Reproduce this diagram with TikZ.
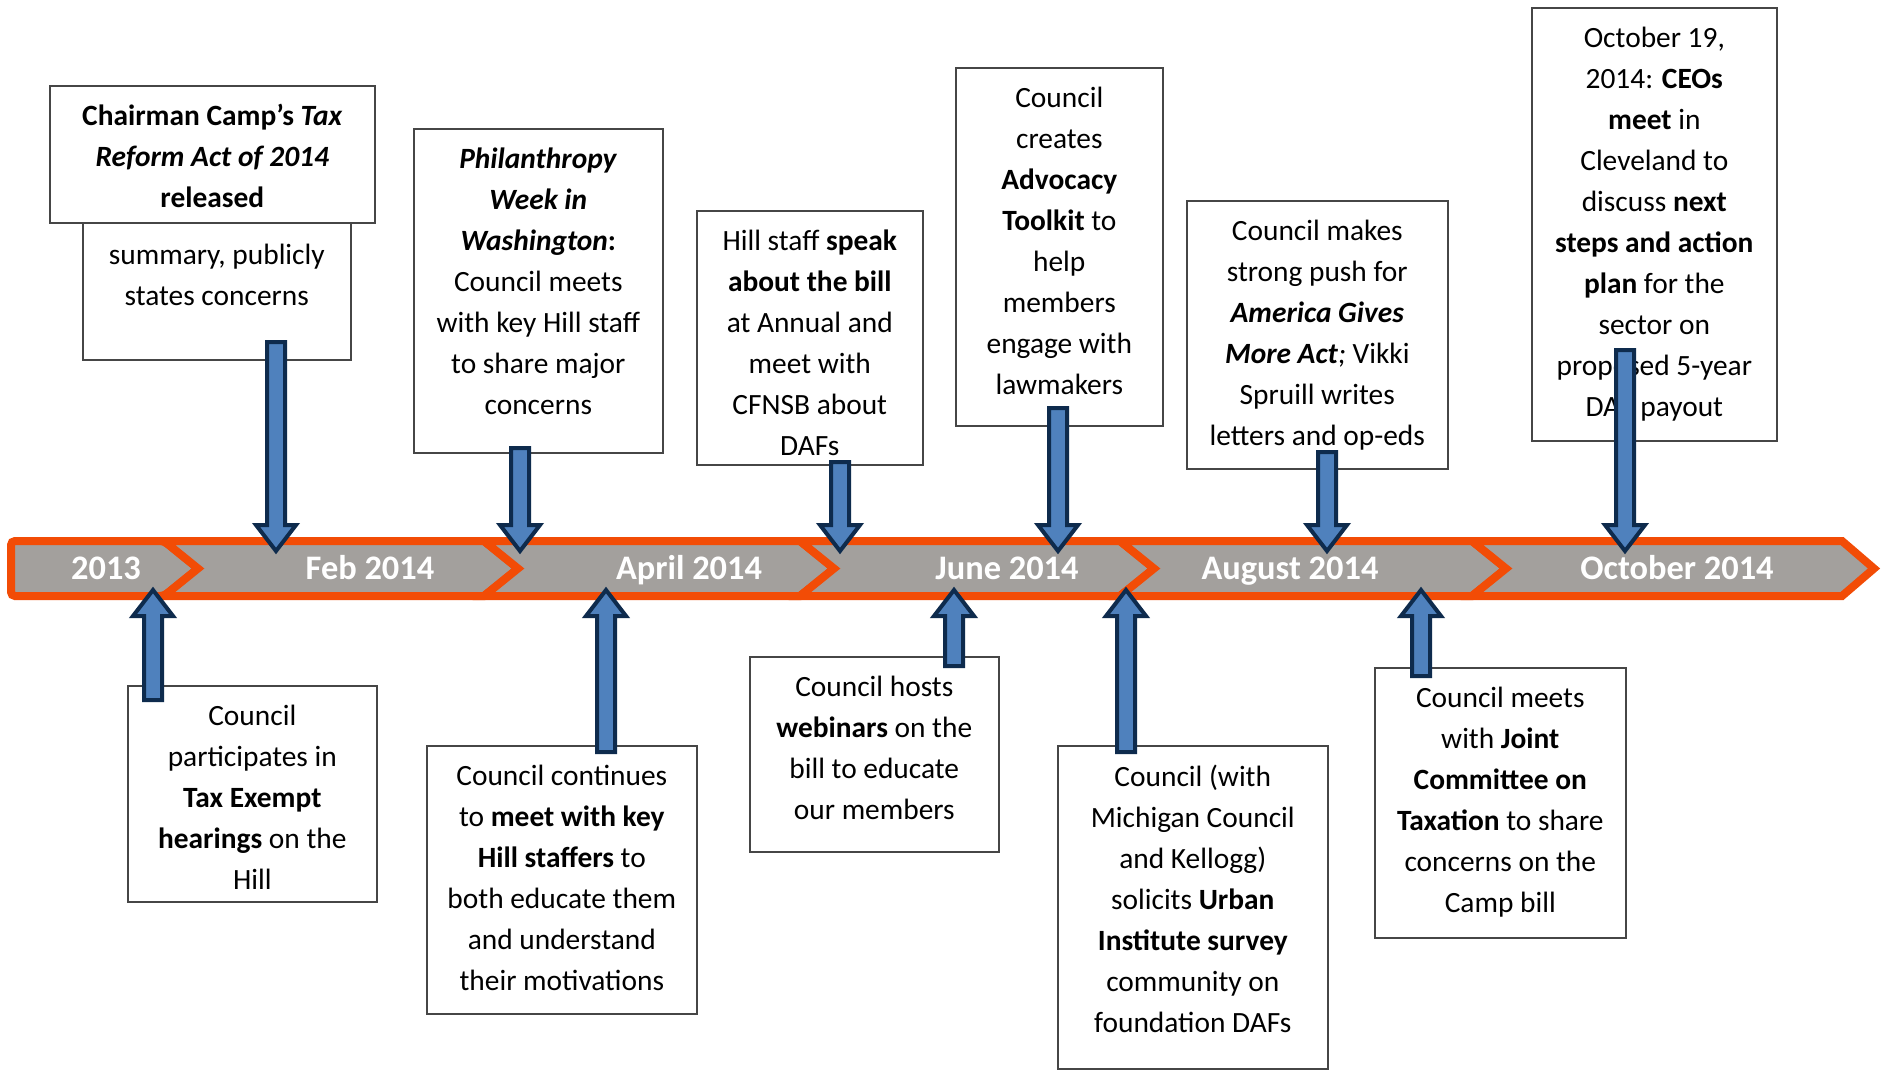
\documentclass[tikz,border=0pt]{standalone}
\usepackage{fontspec}
\setmainfont{Carlito}
\usetikzlibrary{calc, positioning}
\definecolor{bandorange}{RGB}{242,76,6}
\definecolor{bandgray}{RGB}{163,160,157}
\definecolor{arrowblue}{RGB}{79,129,189}
\definecolor{arrownavy}{RGB}{14,43,77}
\definecolor{boxgray}{RGB}{70,70,70}

% block arrow from #1 (tail) to #2 (tip), vertical
\newcommand{\evarrow}[2]{%
  \draw[blockarrow] let \p1=(#1), \p2=(#2), \n1={sign(\y2-\y1)} in
    (\x1-4.5pt,\y1) -- (\x1-4.5pt,{\y2-(\n1)*13pt}) -- (\x1-10pt,{\y2-(\n1)*13pt})
    -- (\x1,\y2) -- (\x1+10pt,{\y2-(\n1)*13pt}) -- (\x1+4.5pt,{\y2-(\n1)*13pt})
    -- (\x1+4.5pt,\y1) -- cycle;}

\begin{document}
\begin{tikzpicture}[x=0.5pt, y=-0.5pt,
  band/.style={draw=bandorange, line width=4pt, fill=bandgray, line join=miter},
  bandlabel/.style={text=white, font=\fontsize{17.2}{20}\selectfont\bfseries, anchor=base},
  evbox/.style={draw=boxgray, line width=0.8pt, fill=white, inner sep=0pt, anchor=north west},
  evtext/.style={align=center, font=\fontsize{14.7}{20.5}\selectfont, inner sep=0pt},
  blockarrow/.style={draw=arrownavy, fill=arrowblue, line width=2pt, line join=miter}]

  \fill[white] (0,0) rectangle (1881,1070);
  \useasboundingbox (0,0) rectangle (1881,1070);

  % timeline band
  \draw[band, rounded corners=2pt] (11,541) -- (164,541) -- (198,568.5) -- (164,596) -- (11,596) -- cycle;
  \draw[band] (164,541) -- (484,541) -- (518,568.5) -- (484,596) -- (164,596) -- (198,568.5) -- cycle;
  \draw[band] (484,541) -- (800,541) -- (834,568.5) -- (800,596) -- (484,596) -- (518,568.5) -- cycle;
  \draw[band] (800,541) -- (1120,541) -- (1154,568.5) -- (1120,596) -- (800,596) -- (834,568.5) -- cycle;
  \draw[band] (1120,541) -- (1472,541) -- (1506,568.5) -- (1472,596) -- (1120,596) -- (1154,568.5) -- cycle;
  \draw[band] (1472,541) -- (1842,541) -- (1874,568.5) -- (1842,596) -- (1472,596) -- (1506,568.5) -- cycle;

  \node[bandlabel] (y2013) at (106,579) {2013};
  \node[bandlabel] (feb) at (370,579) {Feb 2014};
  \node[bandlabel] (apr) at (689,579) {April 2014};
  \node[bandlabel] (jun) at (1007,579) {June 2014};
  \node[bandlabel] (aug) at (1290,579) {August 2014};
  \node[bandlabel] (oct) at (1677,579) {October 2014};

  \coordinate (downtip) at (0,551);
  \coordinate (uptip) at (0,590);

  % events above the band
  \node[evbox, minimum width=134pt, minimum height=87.5pt] (summ) at (82,184) {};
  \node[evtext, below=30pt of summ.north] (summ-t) {summary, publicly\\states concerns};
  \node[evbox, minimum width=162.5pt, minimum height=68.5pt] (camp) at (49,85) {};
  \node[evtext, below=9.6pt of camp.north] (camp-t) {\textbf{Chairman Camp’s \textit{Tax}}\\\textbf{\textit{Reform Act of 2014}}\\\textbf{released}};

  \node[evbox, minimum width=124.5pt, minimum height=162pt] (week) at (413,128) {};
  \node[evtext, below=9.6pt of week.north] (week-t) {\textbf{\textit{Philanthropy}}\\\textbf{\textit{Week in}}\\\textbf{\textit{Washington}:}\\Council meets\\with key Hill staff\\to share major\\concerns};

  \node[evbox, minimum width=113pt, minimum height=127pt] (speak) at (696,210) {};
  \node[evtext, below=9.6pt of speak.north] (speak-t) {Hill staff \textbf{speak}\\\textbf{about the bill}\\at Annual and\\meet with\\CFNSB about\\DAFs};

  \node[evbox, minimum width=103.5pt, minimum height=179pt] (toolkit) at (955,67) {};
  \node[evtext, below=9.6pt of toolkit.north] (toolkit-t) {Council\\creates\\\textbf{Advocacy}\\\textbf{Toolkit} to\\help\\members\\engage with\\lawmakers};

  \node[evbox, minimum width=130.5pt, minimum height=134pt] (gives) at (1186,200) {};
  \node[evtext, below=9.6pt of gives.north] (gives-t) {Council makes\\strong push for\\\textbf{\textit{America Gives}}\\\textbf{\textit{More Act}}\textit{;} Vikki\\Spruill writes\\letters and op-eds};

  \node[evbox, minimum width=122.5pt, minimum height=216.5pt] (ceos) at (1531,7) {};
  \node[evtext, below=9.6pt of ceos.north] (ceos-t) {October 19,\\2014: \textbf{CEOs}\\\textbf{meet} in\\Cleveland to\\discuss \textbf{next}\\\textbf{steps and action}\\\textbf{plan} for the\\sector on\\proposed 5-year\\DAF payout};

  % events below the band
  \node[evbox, minimum width=124.5pt, minimum height=108pt] (hear) at (127,685) {};
  \node[evtext, below=9.6pt of hear.north] (hear-t) {Council\\participates in\\\textbf{Tax Exempt}\\\textbf{hearings} on the\\Hill};

  \node[evbox, minimum width=135pt, minimum height=134pt] (staff) at (426,745) {};
  \node[evtext, below=9.6pt of staff.north] (staff-t) {Council continues\\to \textbf{meet with key}\\\textbf{Hill staffers} to\\both educate them\\and understand\\their motivations};

  \node[evbox, minimum width=124.5pt, minimum height=97.5pt] (webinar) at (749,656) {};
  \node[evtext, below=9.6pt of webinar.north] (webinar-t) {Council hosts\\\textbf{webinars} on the\\bill to educate\\our members};

  \node[evbox, minimum width=135pt, minimum height=161.5pt] (survey) at (1057,745) {};
  \node[evtext, below=9.6pt of survey.north] (survey-t) {Council (with\\Michigan Council\\and Kellogg)\\solicits \textbf{Urban}\\\textbf{Institute survey}\\community on\\foundation DAFs};

  \node[evbox, minimum width=125.5pt, minimum height=135pt] (joint) at (1374,667) {};
  \node[evtext, below=9.6pt of joint.north] (joint-t) {Council meets\\with \textbf{Joint}\\\textbf{Committee on}\\\textbf{Taxation} to share\\concerns on the\\Camp bill};

  % arrows to the band
  \coordinate (camp-a) at (276,342);
  \coordinate (week-a) at (520,448);
  \coordinate (speak-a) at (840,462);
  \coordinate (toolkit-a) at (1058,408);
  \coordinate (gives-a) at (1327,452);
  \coordinate (ceos-a) at (1625,350);
  \coordinate (hear-a) at (153,700);
  \coordinate (staff-a) at (606,752);
  \coordinate (webinar-a) at (954,666);
  \coordinate (survey-a) at (1126,752);
  \coordinate (joint-a) at (1421,676);

  \evarrow{camp-a}{camp-a |- downtip}
  \evarrow{week-a}{week-a |- downtip}
  \evarrow{speak-a}{speak-a |- downtip}
  \evarrow{toolkit-a}{toolkit-a |- downtip}
  \evarrow{gives-a}{gives-a |- downtip}
  \evarrow{ceos-a}{ceos-a |- downtip}
  \evarrow{hear-a}{hear-a |- uptip}
  \evarrow{staff-a}{staff-a |- uptip}
  \evarrow{webinar-a}{webinar-a |- uptip}
  \evarrow{survey-a}{survey-a |- uptip}
  \evarrow{joint-a}{joint-a |- uptip}
\end{tikzpicture}
\end{document}
